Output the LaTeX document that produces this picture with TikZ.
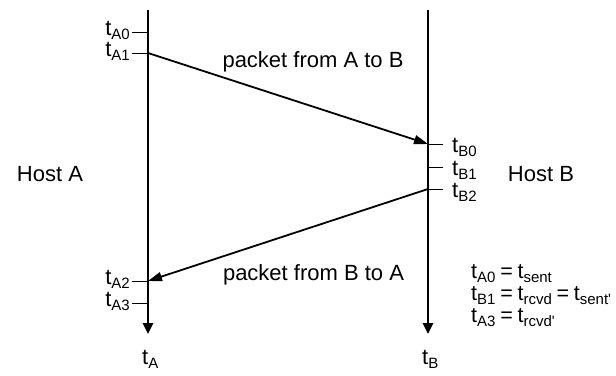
\documentclass[tikz,border=0pt]{standalone}
\usepackage{fontspec}
\setmainfont{Liberation Sans}
\usetikzlibrary{arrows.meta}
\newcommand{\ts}[1]{t\raisebox{-0.2em}{\fontsize{15}{15}\selectfont #1}}
\newcommand{\eqspacing}{\spaceskip=0.22em\relax}
\begin{document}
\begin{tikzpicture}[x=1pt,y=-1pt,
  axis/.style={line width=2.6pt,-{Triangle[length=11pt,width=10pt]}},
  msg/.style={line width=1.8pt,-{Triangle[length=14pt,width=9pt]}},
  tick/.style={line width=0.9pt},
  lbl/.style={font=\fontsize{22}{26}\selectfont,inner sep=0pt},
  eq/.style={font=\fontsize{21.5}{26}\selectfont\eqspacing,inner sep=0pt},
  txt/.style={font=\fontsize{22}{26}\selectfont,inner sep=0pt}]
\useasboundingbox (0,0) rectangle (616,375);
% axes
\coordinate (atop) at (148,10);
\coordinate (aend) at (148,334);
\coordinate (btop) at (428,10);
\coordinate (bend) at (428,334);
\draw[axis] (atop) -- (aend);
\draw[axis] (btop) -- (bend);
% tick points
\coordinate (a0) at (148,32);
\coordinate (a1) at (148,53);
\coordinate (a2) at (148,281);
\coordinate (a3) at (148,303);
\coordinate (b0) at (428,144);
\coordinate (b1) at (428,167);
\coordinate (b2) at (428,189);
% ticks with labels
\foreach \p/\lab in {a0/A0,a1/A1,a2/A2,a3/A3}{
  \draw[tick] (\p) -- ++(-16,0) coordinate (e\p);
  \node[lbl,anchor=base east] (l\p) at ([xshift=-2pt,yshift=-3pt]e\p) {\ts{\lab}};
}
\foreach \p/\lab in {b0/B0,b1/B1,b2/B2}{
  \draw[tick] (\p) -- ++(15,0) coordinate (e\p);
  \node[lbl,anchor=base west] (l\p) at ([xshift=9pt,yshift=-8pt]e\p) {\ts{\lab}};
}
% messages
\draw[msg] (a1) -- (b0);
\draw[msg] (b2) -- (a2);
\node[txt,anchor=base] (mab) at (313,67) {packet from A to B};
\node[txt,anchor=base] (mba) at (313.5,280) {packet from B to A};
% hosts
\node[txt,anchor=base] (ha) at (50,181) {Host A};
\node[txt,anchor=base] (hb) at (541,181) {Host B};
% axis labels
\node[lbl,anchor=base west] (ta) at (142,364) {\ts{A}};
\node[lbl,anchor=base west] (tb) at (422,364) {\ts{B}};
% equations
\node[eq,anchor=base west] (e1) at (471,278) {\ts{A0} = \ts{sent}};
\node[eq,anchor=base west] (e2) at (471,300) {\ts{B1} = \ts{rcvd} = \ts{sent\textquotesingle}};
\node[eq,anchor=base west] (e3) at (471,322) {\ts{A3} = \ts{rcvd\textquotesingle}};
\end{tikzpicture}
\end{document}
